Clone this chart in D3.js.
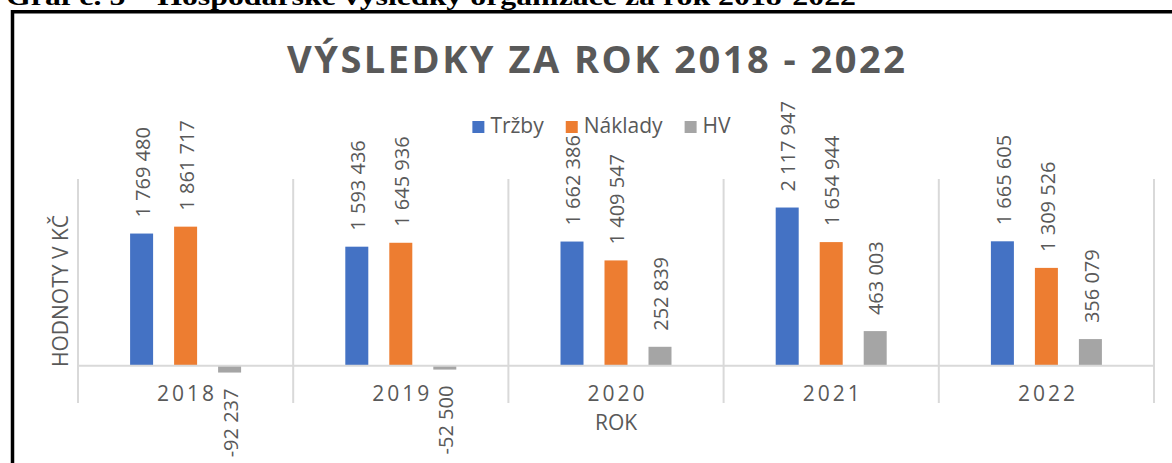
<!DOCTYPE html>
<html>
<head>
<meta charset="utf-8">
<script src="https://cdn.jsdelivr.net/npm/d3@7"></script>
<style>
  html, body { margin: 0; padding: 0; background: #fff; }
  svg { display: block; }
  text { font-family: "Open Sans", "Noto Sans", sans-serif; fill: #595959; }
</style>
</head>
<body>
<div id="chart"></div>
<script>
// Data
const years = ["2018", "2019", "2020", "2021", "2022"];
const series = ["Tržby", "Náklady", "HV"];
const trzby = [1769480, 1593436, 1662386, 2117947, 1665605];
const naklady = [1861717, 1645936, 1409547, 1654944, 1309526];
const hv = [-92237, -52500, 252839, 463003, 356079];
const seriesColors = ["#4472C4", "#ED7D31", "#A5A5A5"];
const yDomain = [-500000, 2500000];

const caption = "Graf č. 5 – Hospodářské výsledky organizace za rok 2018-2022";
const chartTitle = "VÝSLEDKY ZA ROK 2018 - 2022";
const yTitle = "HODNOTY V KČ";
const xTitle = "ROK";

const values = [trzby, naklady, hv];

const width = 1172, height = 463;
const plot = { left: 78, right: 1154, top: 179, bottom: 403 };

const svg = d3.select("#chart").append("svg")
    .attr("width", width)
    .attr("height", height);

// caption of the document, cut off at the top (as in the scan)
svg.append("text")
    .attr("x", 6)
    .attr("y", 5)
    .attr("textLength", 850)
    .attr("lengthAdjust", "spacingAndGlyphs")
    .style("font-family", "'Liberation Serif', 'DejaVu Serif', serif")
    .style("font-weight", "bold")
    .style("font-size", "26px")
    .style("fill", "#000")
    .text(caption);

// frame around the chart
svg.append("path")
    .attr("d", `M12.5,${height + 5} V11.8 H${width + 5}`)
    .attr("fill", "none")
    .attr("stroke", "#000")
    .attr("stroke-width", 3.5);

// chart title
svg.append("text")
    .attr("x", 287)
    .attr("y", 73)
    .attr("textLength", 618)
    .attr("lengthAdjust", "spacing")
    .style("font-weight", "bold")
    .style("font-size", "38px")
    .text(chartTitle);

const x = d3.scaleBand()
    .domain(years)
    .range([plot.left, plot.right])
    .padding(0);

const barW = 23, barStep = 44;
const pInner = (barStep - barW) / barStep;
const pOuter = (x.bandwidth() / barStep - series.length + pInner) / 2;
const xInner = d3.scaleBand()
    .domain(series)
    .range([0, x.bandwidth()])
    .paddingInner(pInner)
    .paddingOuter(pOuter);

const y = d3.scaleLinear()
    .domain(yDomain)
    .range([plot.bottom, plot.top]);

const fmt = d3.formatLocale({
    decimal: ",", thousands: " ", grouping: [3], currency: ["", ""], minus: "-"
}).format(",d");

// vertical category separators
const grid = svg.append("g");
grid.selectAll("line.sep")
    .data(years.concat(["end"]))
    .enter().append("line")
    .attr("class", "sep")
    .attr("x1", d => d === "end" ? plot.right : x(d))
    .attr("x2", d => d === "end" ? plot.right : x(d))
    .attr("y1", plot.top)
    .attr("y2", plot.bottom)
    .attr("stroke", "#D9D9D9")
    .attr("stroke-width", 2);

// bars
const rows = [];
years.forEach((yr, i) => {
    series.forEach((s, j) => {
        rows.push({ year: yr, series: s, value: values[j][i], color: seriesColors[j] });
    });
});

svg.append("g").selectAll("rect")
    .data(rows)
    .enter().append("rect")
    .attr("x", d => x(d.year) + xInner(d.series))
    .attr("width", xInner.bandwidth())
    .attr("y", d => Math.min(y(d.value), y(0)))
    .attr("height", d => Math.abs(y(d.value) - y(0)))
    .attr("fill", d => d.color);

// zero axis line
svg.append("line")
    .attr("x1", plot.left)
    .attr("x2", plot.right)
    .attr("y1", y(0))
    .attr("y2", y(0))
    .attr("stroke", "#D9D9D9")
    .attr("stroke-width", 2);

// data labels, rotated
const labelGap = 16;
svg.append("g").selectAll("text")
    .data(rows)
    .enter().append("text")
    .attr("transform", d => {
        const cx = x(d.year) + xInner(d.series) + xInner.bandwidth() / 2 + 1;
        const cy = d.value >= 0 ? y(d.value) - labelGap : y(d.value) + labelGap;
        return `translate(${cx},${cy}) rotate(-90)`;
    })
    .attr("text-anchor", d => d.value >= 0 ? "start" : "end")
    .attr("dy", "0.36em")
    .style("font-size", "20px")
    .text(d => fmt(d.value));

// category labels
svg.append("g").selectAll("text")
    .data(years)
    .enter().append("text")
    .attr("x", d => x(d) + x.bandwidth() / 2 + 1.5)
    .attr("y", 401)
    .attr("text-anchor", "middle")
    .style("font-size", "21px")
    .style("letter-spacing", "3px")
    .text(d => d);

// axis titles
svg.append("text")
    .attr("x", (plot.left + plot.right) / 2)
    .attr("y", 430)
    .attr("text-anchor", "middle")
    .style("font-size", "21px")
    .text(xTitle);

svg.append("text")
    .attr("transform", `translate(60.5,${(plot.top + plot.bottom) / 2}) rotate(-90)`)
    .attr("text-anchor", "middle")
    .attr("dy", "0.36em")
    .style("font-size", "21px")
    .text(yTitle);

// legend
const legend = svg.append("g");
const items = legend.selectAll("g")
    .data(series)
    .enter().append("g");
items.append("rect")
    .attr("width", 12)
    .attr("height", 12)
    .attr("y", 121)
    .attr("fill", (d, i) => seriesColors[i]);
items.append("text")
    .attr("x", 18)
    .attr("y", 133)
    .style("font-size", "21px")
    .text(d => d);

let cursor = 0;
const offsets = [];
items.each(function () {
    offsets.push(cursor);
    const w = d3.select(this).select("text").node().getComputedTextLength();
    cursor += 18 + w + 22;
});
const legendWidth = cursor - 22;
const legendStart = 601.5 - legendWidth / 2;
items.attr("transform", (d, i) => `translate(${legendStart + offsets[i]},0)`);
</script>
</body>
</html>
